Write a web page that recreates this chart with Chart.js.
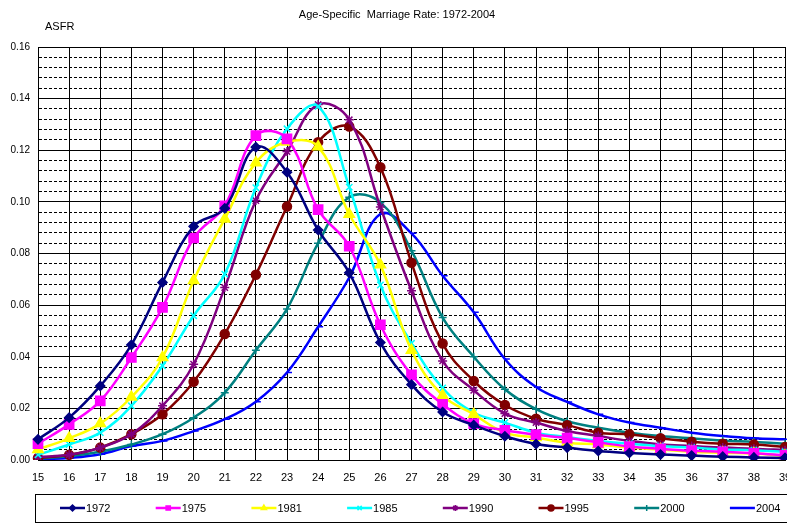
<!DOCTYPE html>
<html>
<head>
<meta charset="utf-8">
<title>Age-Specific Marriage Rate</title>
<script src="https://cdn.jsdelivr.net/npm/chart.js@4.4.1/dist/chart.umd.min.js"></script>
<style>
  body { margin: 0; background: #fff; }
  #wrap { width: 787px; height: 523px; position: relative; }
</style>
</head>
<body>
<div id="wrap"><canvas id="asfr"></canvas></div>
<script>
// ages on the x axis
let ages = ['15','16','17','18','19','20','21','22','23','24','25','26','27',
            '28','29','30','31','32','33','34','35','36','37','38','39'];

// rates per age, one list per survey year
let r1972 = [0.0080,0.0164,0.0287,0.0446,0.0688,0.0905,0.0975,0.1212,0.1115,0.0891,0.0725,0.0455,0.0292,
             0.0186,0.0135,0.0092,0.0062,0.0048,0.0035,0.0027,0.0021,0.0017,0.0013,0.0010,0.0008];
let r1975 = [0.0063,0.0138,0.0229,0.0397,0.0591,0.0860,0.0985,0.1257,0.1244,0.0970,0.0828,0.0524,0.0330,
             0.0216,0.0141,0.0115,0.0098,0.0085,0.0068,0.0052,0.0043,0.0036,0.0032,0.0026,0.0018];
let r1981 = [0.0041,0.0084,0.0141,0.0244,0.0397,0.0695,0.0934,0.1152,0.1232,0.1214,0.0952,0.0756,0.0425,
             0.0250,0.0177,0.0106,0.0087,0.0067,0.0060,0.0048,0.0041,0.0032,0.0028,0.0025,0.0016];
let r1985 = [0.0020,0.0060,0.0106,0.0210,0.0365,0.0559,0.0720,0.1055,0.1283,0.1370,0.1057,0.0678,0.0452,
             0.0279,0.0184,0.0145,0.0106,0.0089,0.0074,0.0063,0.0054,0.0048,0.0041,0.0038,0.0032];
let r1990 = [0.0012,0.0020,0.0048,0.0100,0.0210,0.0371,0.0668,0.1005,0.1195,0.1377,0.1318,0.0980,0.0656,
             0.0384,0.0270,0.0180,0.0145,0.0112,0.0093,0.0074,0.0060,0.0054,0.0048,0.0044,0.0038];
let r1995 = [0.0008,0.0020,0.0048,0.0100,0.0177,0.0303,0.0488,0.0718,0.0982,0.1231,0.1292,0.1134,0.0764,
             0.0451,0.0306,0.0213,0.0160,0.0135,0.0106,0.0100,0.0084,0.0071,0.0063,0.0060,0.0050];
let r2000 = [0.0005,0.0015,0.0032,0.0060,0.0100,0.0164,0.0261,0.0425,0.0585,0.0840,0.1018,0.0998,0.0811,
             0.0552,0.0400,0.0274,0.0197,0.0150,0.0125,0.0106,0.0093,0.0084,0.0076,0.0070,0.0063];
let r2004 = [0.0003,0.0008,0.0022,0.0054,0.0074,0.0112,0.0158,0.0226,0.0339,0.0516,0.0707,0.0953,0.0878,
             0.0714,0.0572,0.0391,0.0283,0.0225,0.0177,0.0145,0.0125,0.0106,0.0093,0.0084,0.0080];

let years = ['1972','1975','1981','1985','1990','1995','2000','2004'];
let rates = [r1972, r1975, r1981, r1985, r1990, r1995, r2000, r2004];
let colors = ['#000080','#ff00ff','#ffff00','#00ffff','#800080','#800000','#008080','#0000ff'];
let markers = ['rectRot','rect','triangle','crossRot','star','circle','cross','dash'];
let markerSize = [4.5, 6.5, 6, 4.5, 4.5, 4.5, 4, 5];

let chartTitle = 'Age-Specific  Marriage Rate: 1972-2004';
let yTitle = 'ASFR';
let font = '"Liberation Sans", Arial, sans-serif';

// build the datasets from the lists above
let datasets = [];
for (let i = 0; i < years.length; i++) {
    datasets.push({
        label: years[i],
        data: rates[i],
        borderColor: colors[i],
        backgroundColor: colors[i],
        pointBackgroundColor: colors[i],
        pointBorderColor: colors[i],
        pointStyle: markers[i],
        pointRadius: markerSize[i],
        pointBorderWidth: 1.5,
        borderWidth: 2.5,
        tension: 0.4,
        fill: false
    });
}

// is this y tick one of the labelled 0.02 steps?
function isMajor(v) {
    return Math.round(v * 1000) % 20 === 0;
}

// title, axis caption and the boxed legend under the plot
let decor = {
    id: 'decor',
    afterDraw(chart) {
        let ctx = chart.ctx;
        ctx.save();
        ctx.fillStyle = '#000';
        ctx.font = '11px ' + font;
        ctx.textBaseline = 'middle';
        ctx.textAlign = 'center';
        ctx.fillText(chartTitle, 397, 15);
        ctx.textAlign = 'left';
        ctx.fillText(yTitle, 45, 27);

        ctx.strokeStyle = '#000';
        ctx.lineWidth = 1;
        ctx.strokeRect(35.5, 494.5, 800, 28);

        chart.data.datasets.forEach(function(ds, i) {
            let x0 = 60 + i * 95.7;
            let y0 = 508;
            ctx.strokeStyle = ds.borderColor;
            ctx.lineWidth = 2.5;
            ctx.beginPath();
            ctx.moveTo(x0, y0);
            ctx.lineTo(x0 + 25, y0);
            ctx.stroke();
            ctx.fillStyle = ds.backgroundColor;
            ctx.lineWidth = 1.5;
            Chart.helpers.drawPoint(ctx, {
                pointStyle: ds.pointStyle, rotation: 0, borderWidth: 1.5,
                radius: Math.min(ds.pointRadius, 3)
            }, x0 + 12.5, y0);
            ctx.fillStyle = '#000';
            ctx.fillText(ds.label, x0 + 26, y0 + 1);
        });
        ctx.restore();
    }
};

let ctx = document.getElementById('asfr').getContext('2d');
let chart = new Chart(ctx, {
    type: 'line',
    data: { labels: ages, datasets: datasets },
    plugins: [decor],
    options: {
        responsive: true,
        maintainAspectRatio: false,
        animation: false,
        devicePixelRatio: 1,
        // no extra room for markers: the plot runs to the right edge and age 39 is cut off
        layout: { autoPadding: false, padding: { top: 47, right: 2, left: 0, bottom: 0 } },
        plugins: {
            legend: { display: false },
            tooltip: { enabled: false },
            title: { display: false }
        },
        scales: {
            x: {
                type: 'category',
                offset: false,
                grid: { color: '#000', lineWidth: 1, drawTicks: false, offset: false },
                border: { color: '#000', width: 1 },
                ticks: {
                    autoSkip: false, maxRotation: 0, padding: 11,
                    color: '#000', font: { family: font, size: 11 }
                },
                afterFit(scale) {
                    scale.height = 63;
                    scale.paddingLeft = 0;
                    scale.paddingRight = 0;
                }
            },
            y: {
                min: 0,
                max: 0.16,
                grid: {
                    color: '#000',
                    lineWidth: 1,
                    drawTicks: false
                },
                border: {
                    color: '#000',
                    width: 1,
                    dash: function(c) {
                        return (c.tick && !isMajor(c.tick.value)) ? [3, 2] : [];
                    }
                },
                ticks: {
                    stepSize: 0.004,
                    autoSkip: false,
                    padding: 8,
                    color: '#000',
                    font: { family: font, size: 10 },
                    callback: function(v) {
                        return isMajor(v) ? v.toFixed(2) : '';
                    }
                },
                afterFit(scale) {
                    scale.width = 38;
                    scale.paddingTop = 0;
                    scale.paddingBottom = 0;
                }
            }
        }
    }
});
</script>
</body>
</html>
